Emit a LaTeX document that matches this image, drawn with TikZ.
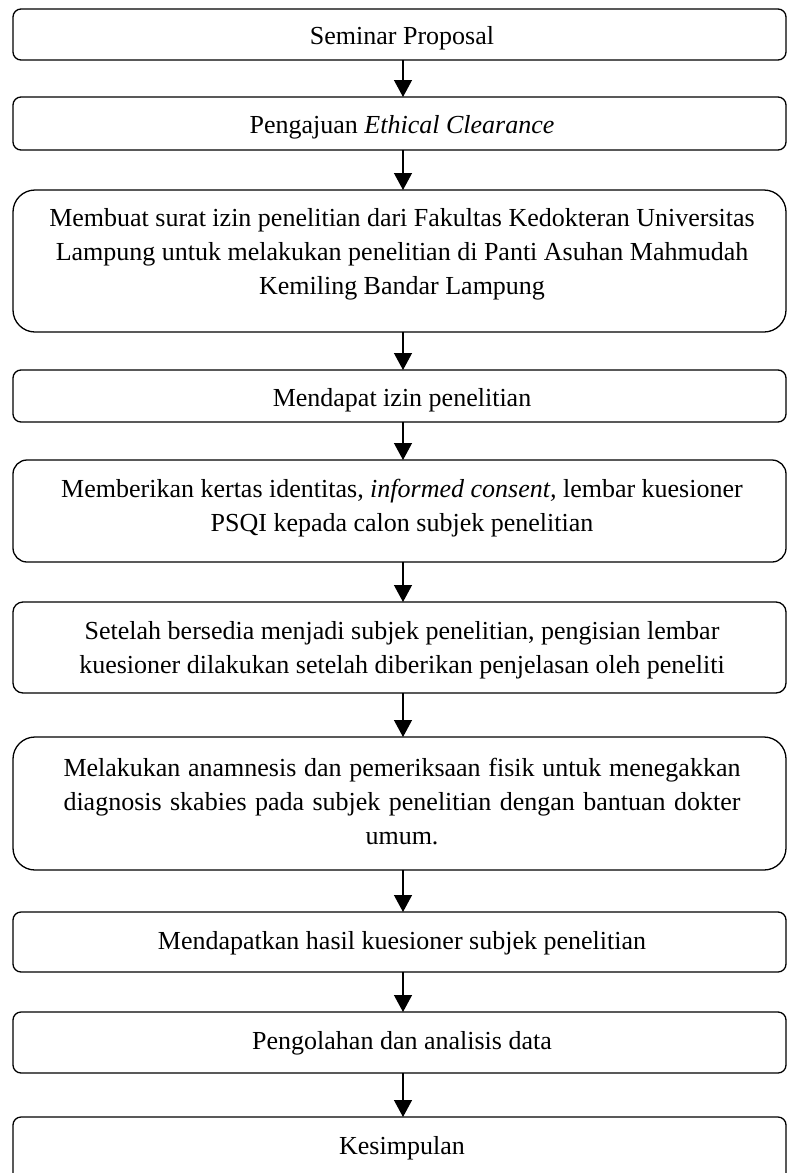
\documentclass[tikz,border=0pt]{standalone}
\usepackage{fontspec}
\setmainfont{Liberation Serif}
\usetikzlibrary{arrows.meta}
\tikzset{
  stepbox/.style={draw=black, line width=1.3pt, minimum width=773pt, inner sep=0pt, outer sep=0pt},
  steptext/.style={align=center, inner sep=0pt, font=\fontsize{26}{34}\selectfont},
  arr/.style={line width=1.3pt, -{Triangle[width=18pt,length=17pt]}}
}
\begin{document}
\begin{tikzpicture}[x=1pt,y=-1pt]
\useasboundingbox (0,0) rectangle (787,1173);
% boxes
\node[stepbox, rounded corners=8pt, minimum height=51pt] (b1) at (399.5,34.5) {};
\node[stepbox, rounded corners=8pt, minimum height=53pt] (b2) at (399.5,123.5) {};
\node[stepbox, rounded corners=22pt, minimum height=142pt] (b3) at (399.5,261) {};
\node[stepbox, rounded corners=8pt, minimum height=52pt] (b4) at (399.5,396) {};
\node[stepbox, rounded corners=14pt, minimum height=102pt] (b5) at (399.5,511) {};
\node[stepbox, rounded corners=10pt, minimum height=91pt] (b6) at (399.5,647.5) {};
\node[stepbox, rounded corners=22pt, minimum height=133pt] (b7) at (399.5,803.5) {};
\node[stepbox, rounded corners=8pt, minimum height=60pt] (b8) at (399.5,942) {};
\node[stepbox, rounded corners=8pt, minimum height=61pt] (b9) at (399.5,1042.5) {};
\node[stepbox, rounded corners=8pt, minimum height=73pt] (b10) at (399.5,1153.5) {};
% texts
\node[steptext] (t1) at (402,38) {Seminar Proposal};
\node[steptext] (t2) at (402,127) {Pengajuan \textit{Ethical Clearance}};
\node[steptext] (t3) at (402,254) {Membuat surat izin penelitian dari Fakultas Kedokteran Universitas\\Lampung untuk melakukan penelitian di Panti Asuhan Mahmudah\\Kemiling Bandar Lampung};
\node[steptext] (t4) at (402,400) {Mendapat izin penelitian};
\node[steptext] (t5) at (402,508) {Memberikan kertas identitas, \textit{informed consent,} lembar kuesioner\\PSQI kepada calon subjek penelitian};
\node[steptext] (t6) at (402,650) {Setelah bersedia menjadi subjek penelitian, pengisian lembar\\kuesioner dilakukan setelah diberikan penjelasan oleh peneliti};
\node[steptext] (t7) at (402,802) {\makebox[677pt][s]{Melakukan anamnesis dan pemeriksaan fisik untuk menegakkan}\\\makebox[677pt][s]{diagnosis skabies pada subjek penelitian dengan bantuan dokter}\\umum.};
\node[steptext] (t8) at (402,943) {Mendapatkan hasil kuesioner subjek penelitian};
\node[steptext] (t9) at (402,1043) {Pengolahan dan analisis data};
\node[steptext] (t10) at (402,1148) {Kesimpulan};
% arrows
\foreach \a/\b in {b1/b2,b2/b3,b3/b4,b4/b5,b5/b6,b6/b7,b7/b8,b8/b9,b9/b10}
  \draw[arr] ([xshift=3.5pt]\a.south) -- ([xshift=3.5pt]\b.north);
\end{tikzpicture}
\end{document}
